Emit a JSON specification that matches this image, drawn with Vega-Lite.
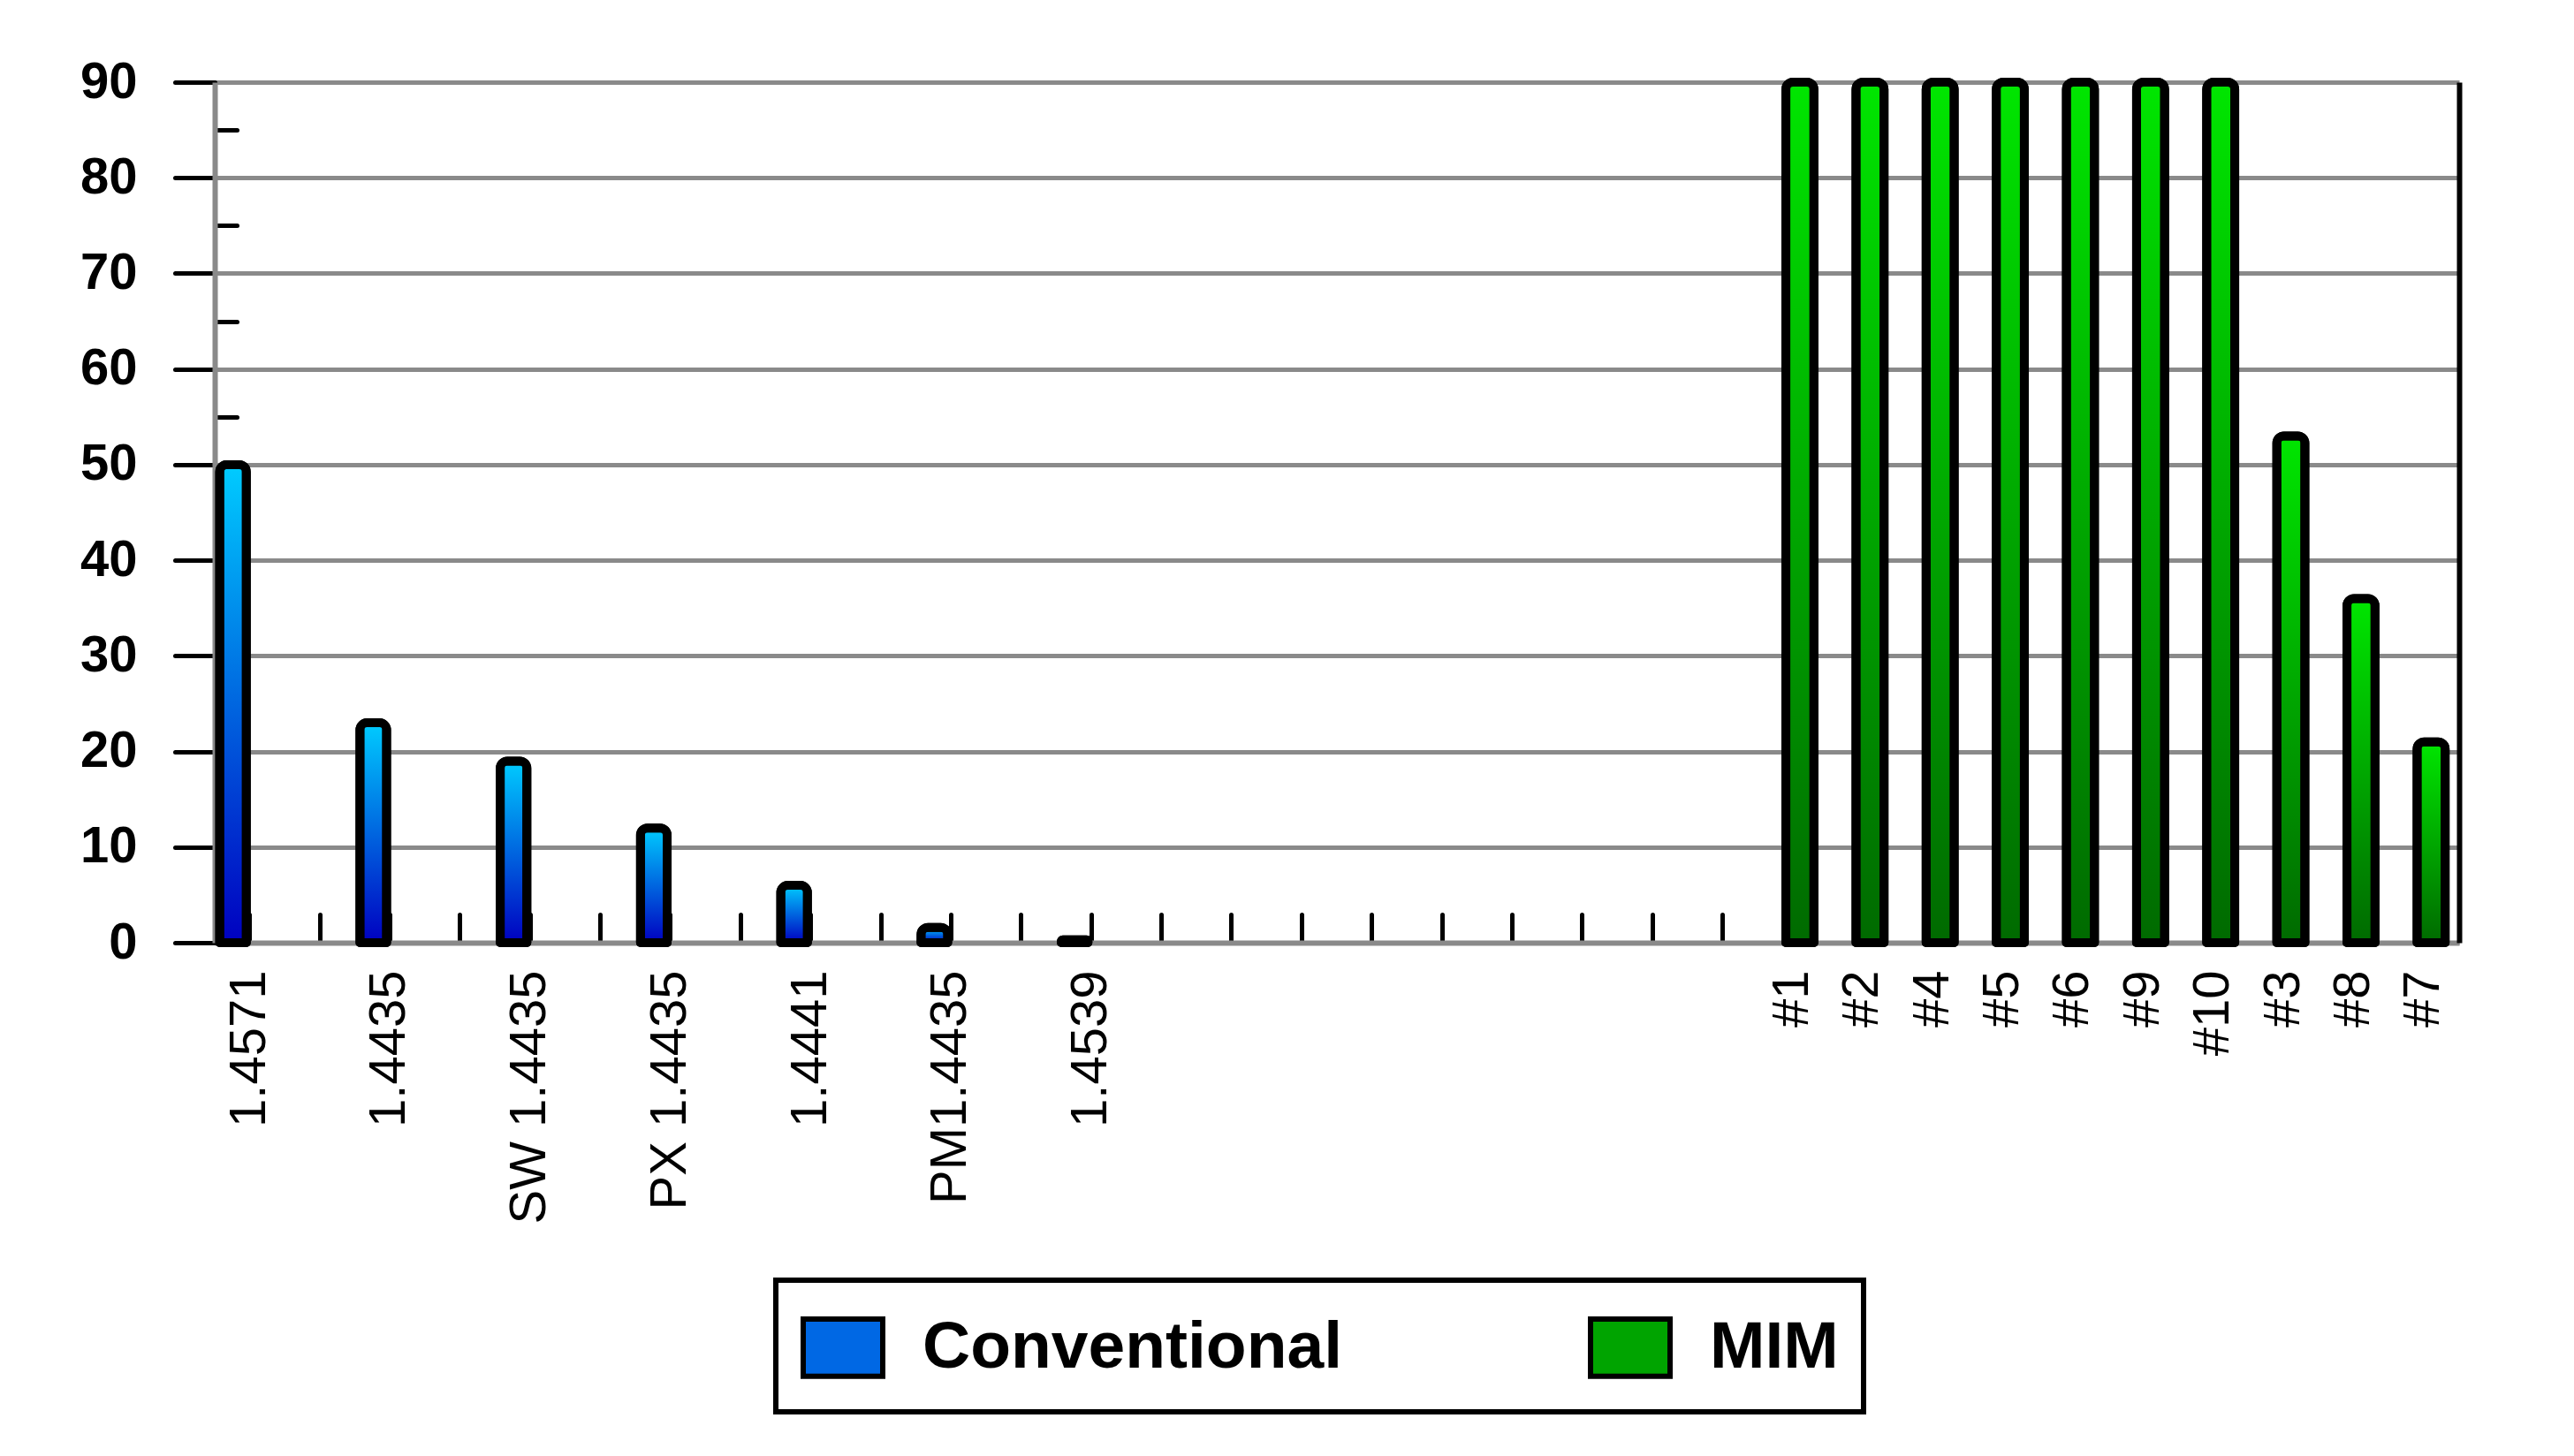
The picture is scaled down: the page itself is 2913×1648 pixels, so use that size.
{
  "$schema": "https://vega.github.io/schema/vega-lite/v6.json",
  "width": 2540,
  "height": 974,
  "autosize": "none",
  "padding": {"left": 243, "top": 93, "right": 130, "bottom": 581},
  "background": "white",
  "config": {"view": {"stroke": null}, "font": "Liberation Sans", "legend": {"strokeWidth": 6}},
  "data": {
    "values": [
      {"sample": "1.4571", "series": "Conventional", "value": 50},
      {"sample": "1.4435", "series": "Conventional", "value": 23},
      {"sample": "SW 1.4435", "series": "Conventional", "value": 19},
      {"sample": "PX 1.4435", "series": "Conventional", "value": 12},
      {"sample": "1.4441", "series": "Conventional", "value": 6},
      {"sample": "PM1.4435", "series": "Conventional", "value": 1.6},
      {"sample": "1.4539", "series": "Conventional", "value": 0.3},
      {"sample": "#1", "series": "MIM", "value": 90},
      {"sample": "#2", "series": "MIM", "value": 90},
      {"sample": "#4", "series": "MIM", "value": 90},
      {"sample": "#5", "series": "MIM", "value": 90},
      {"sample": "#6", "series": "MIM", "value": 90},
      {"sample": "#9", "series": "MIM", "value": 90},
      {"sample": "#10", "series": "MIM", "value": 90},
      {"sample": "#3", "series": "MIM", "value": 53},
      {"sample": "#8", "series": "MIM", "value": 36},
      {"sample": "#7", "series": "MIM", "value": 21}
    ]
  },
  "encoding": {
    "x": {
      "field": "sample", "type": "nominal", "sort": null,
      "scale": {
        "domain": ["1.4571", "_1", "1.4435", "_3", "SW 1.4435", "_5", "PX 1.4435", "_7", "1.4441", "_9", "PM1.4435", "_11", "1.4539", "_13", "_14", "_15", "_16", "_17", "_18", "_19", "_20", "_21", "#1", "#2", "#4", "#5", "#6", "#9", "#10", "#3", "#8", "#7"],
        "paddingInner": 0, "paddingOuter": 0
      },
      "axis": {
        "title": null, "labelAngle": 270, "labelAlign": "right", "labelBaseline": "middle",
        "labelFont": "Liberation Sans", "labelFontSize": 58, "labelColor": "black",
        "labelExpr": "slice(datum.label, 0, 1) == '_' ? '' : datum.label",
        "labelPadding": 63, "labelOverlap": false, "labelLimit": 1000,
        "tickColor": "black", "tickWidth": 5, "tickSize": -32, "tickCap": "round",
        "domainColor": "#8a8a8a", "domainWidth": 6, "grid": false
      }
    }
  },
  "layer": [
    {
      "transform": [{"filter": "datum.series === 'Conventional'"}],
      "mark": {"type": "bar", "stroke": "black", "strokeWidth": 10, "cornerRadiusTopLeft": 8, "cornerRadiusTopRight": 8, "strokeJoin": "round", "width": {"band": 0.38}, "xOffset": -19},
      "encoding": {
        "y": {
          "field": "value", "type": "quantitative",
          "scale": {"domain": [0, 90], "nice": false},
          "axis": {
            "title": null,
            "values": [0, 5, 10, 15, 20, 25, 30, 35, 40, 45, 50, 55, 60, 65, 70, 75, 80, 85, 90],
            "labelExpr": "datum.value % 10 === 0 ? datum.label : ''",
            "labelFont": "Liberation Sans", "labelFontWeight": "bold", "labelFontSize": 58, "labelColor": "black",
            "labelPadding": 43,
            "tickColor": "black", "tickWidth": 5, "tickCap": "round",
            "tickSize": {"condition": {"test": "datum.value % 10 === 0", "value": 45}, "value": -25},
            "domainColor": "#8a8a8a", "domainWidth": 6,
            "gridColor": "#8a8a8a", "gridWidth": 5,
            "gridOpacity": {"condition": {"test": "datum.value % 10 === 0", "value": 1}, "value": 0}
          }
        },
        "color": {
          "field": "series", "type": "nominal",
          "scale": {"domain": ["Conventional", "MIM"], "range": ["#0068e4", "#00a400"]},
          "legend": {
            "title": null, "orient": "none", "legendX": 635, "legendY": 1356, "direction": "horizontal",
            "strokeColor": "black", "fillColor": "white", "padding": 28,
            "symbolType": "M-1,-0.72H1V0.72H-1Z", "symbolSize": 8100, "symbolOpacity": 1,
            "symbolStrokeColor": "black", "symbolStrokeWidth": 6,
            "labelFont": "Liberation Sans", "labelFontSize": 75, "labelFontWeight": "bold", "labelColor": "black",
            "labelOffset": 42, "labelLimit": 1000, "columnPadding": 268
          }
        }
      }
    },
    {
      "transform": [{"filter": "datum.series === 'MIM'"}],
      "mark": {"type": "bar", "stroke": "black", "strokeWidth": 10, "cornerRadiusTopLeft": 8, "cornerRadiusTopRight": 8, "strokeJoin": "round", "width": {"band": 0.4}, "xOffset": 8},
      "encoding": {
        "y": {"field": "value", "type": "quantitative", "axis": null},
        "color": {"field": "series", "type": "nominal"}
      }
    },
    {
      "transform": [{"filter": "datum.series === 'Conventional'"}],
      "mark": {
        "type": "bar", "stroke": "black", "strokeWidth": 10, "cornerRadiusTopLeft": 8, "cornerRadiusTopRight": 8, "strokeJoin": "round", "width": {"band": 0.38}, "xOffset": -19,
        "fill": {"gradient": "linear", "x1": 0, "y1": 0, "x2": 0, "y2": 1, "stops": [{"offset": 0, "color": "#00ccff"}, {"offset": 1, "color": "#0000c0"}]}
      },
      "encoding": {
        "y": {
          "field": "value", "type": "quantitative",
          "axis": {"orient": "right", "title": null, "labels": false, "ticks": false, "grid": false, "domainColor": "black", "domainWidth": 6}
        }
      }
    },
    {
      "transform": [{"filter": "datum.series === 'MIM'"}],
      "mark": {
        "type": "bar", "stroke": "black", "strokeWidth": 10, "cornerRadiusTopLeft": 8, "cornerRadiusTopRight": 8, "strokeJoin": "round", "width": {"band": 0.4}, "xOffset": 8,
        "fill": {"gradient": "linear", "x1": 0, "y1": 0, "x2": 0, "y2": 1, "stops": [{"offset": 0, "color": "#00e600"}, {"offset": 1, "color": "#006a00"}]}
      },
      "encoding": {
        "y": {"field": "value", "type": "quantitative", "axis": null}
      }
    }
  ],
  "resolve": {"axis": {"y": "independent"}}
}
